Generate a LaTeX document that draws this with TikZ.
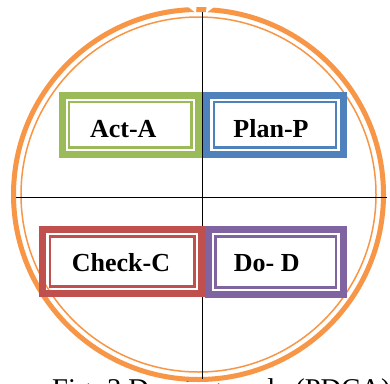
\documentclass[tikz,border=0pt]{standalone}
\usepackage{fontspec}
\setmainfont{Liberation Serif}
\definecolor{ringorange}{HTML}{F79646}
\definecolor{actgreen}{HTML}{9BBB59}
\definecolor{planblue}{HTML}{4F81BD}
\definecolor{checkred}{HTML}{C0504D}
\definecolor{dopurple}{HTML}{8064A2}
\tikzset{
  px/.style={x=1pt,y=-1pt},
  axisline/.style={draw=black,line width=1.3pt},
  phasebox/.style={draw=#1,line width=7pt},
  phaseinner/.style={draw=#1,line width=2.4pt},
  phaselabel/.style={anchor=base,inner sep=0pt,font=\fontsize{26}{30}\selectfont\bfseries},
  caption/.style={anchor=base west,inner sep=0pt,font=\fontsize{28.6}{32}\selectfont},
  ringnotch/.style={fill=white,draw=none},
}
% one quadrant box: thick outer frame and thin inner frame
\newcommand{\pdcabox}[5]{%
  \draw[phasebox=#5] (#1+3.5,#2+3.5) rectangle (#3-3.5,#4-3.5);
  \draw[phaseinner=#5] (#1+10.5,#2+10.5) rectangle (#3-10.5,#4-10.5);
}
\begin{document}
\begin{tikzpicture}[px]
  \useasboundingbox[fill=white] (0,0) rectangle (390,383);

  % figure caption, partly below the page edge
  \node[caption] (cap) at (52,398) {Fig. 3 Deming cycle (PDCA)};

  % cycle ring: thick outer band and thin inner band
  \coordinate (c) at (198.5,194.5);
  \draw[ringorange,line width=5pt] (c) circle[radius=185];
  \draw[ringorange,line width=1.5pt] (c) circle[radius=177.5];
  % where the two ends of the ring meet at the top
  \fill[ringnotch] (187,6) -- (196.5,6) -- (196,13) -- cycle;
  \fill[ringnotch] (206,13) -- (206.5,6) -- (214,7) -- cycle;

  % quadrant axes
  \coordinate (top) at (202.5,12);
  \coordinate (bottom) at (202.5,379);
  \coordinate (left) at (15.5,197.5);
  \coordinate (right) at (386.7,197.5);
  \draw[axisline] (top) -- (bottom);
  \draw[axisline] (left) -- (right);

  % quadrant boxes
  \pdcabox{58.5}{91.5}{202}{158}{actgreen}
  \pdcabox{203.3}{91.5}{346.7}{158}{planblue}
  \pdcabox{39.3}{226}{205}{297}{checkred}
  \pdcabox{205}{226}{346.5}{298}{dopurple}

  \node[phaselabel] (act) at (123.3,137.3) {Act-A};
  \node[phaselabel] (plan) at (271,137.3) {Plan-P};
  \node[phaselabel] (check) at (121,271.3) {Check-C};
  \node[phaselabel] (do) at (266.7,271.3) {Do- D};
\end{tikzpicture}
\end{document}
